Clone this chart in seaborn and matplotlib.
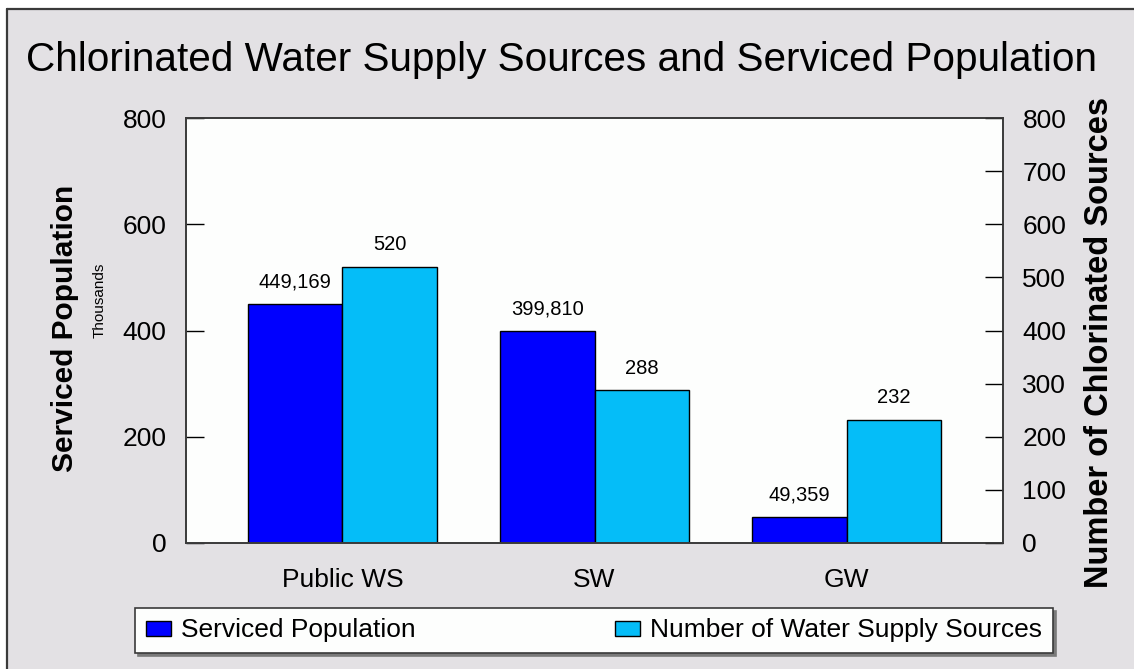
import matplotlib
matplotlib.use("Agg")
import matplotlib.pyplot as plt
from matplotlib.patches import Rectangle, Patch
from matplotlib.lines import Line2D
import seaborn as sns
import pandas as pd

categories = ["Public WS", "SW", "GW"]
population_thousands = [449.169, 399.810, 49.359]
population_labels = ["449,169", "399,810", "49,359"]
num_sources = [520, 288, 232]
source_labels = ["520", "288", "232"]
series_names = ["Serviced Population", "Number of Water Supply Sources"]

df = pd.DataFrame({
    "Category": categories * 2,
    "Series": [series_names[0]] * 3 + [series_names[1]] * 3,
    "Value": population_thousands + num_sources,
})

sns.set_style("white")
plt.rcParams["font.family"] = ["Liberation Sans", "DejaVu Sans"]
plt.rcParams["text.color"] = "black"
plt.rcParams["xtick.color"] = "black"
plt.rcParams["ytick.color"] = "black"

BG = "#e3e1e4"
EDGE = "#3a3a3a"
colors = ["#0000ff", "#05bdf8"]

fig = plt.figure(figsize=(11.34, 6.69), dpi=100)
fig.patch.set_facecolor("white")
fig.patch.set_edgecolor("white")
fig.patch.set_linewidth(0)
x0 = 7 / 1134
y0 = 1 - 9 / 669
fig.patches.append(Rectangle((x0, 0), 1.5, y0, transform=fig.transFigure,
                             facecolor=BG, edgecolor="none", linewidth=0, zorder=-10))
fig.lines.append(Line2D([x0, x0], [0, y0], transform=fig.transFigure,
                        color=EDGE, linewidth=1.6))
fig.lines.append(Line2D([x0, 1.5], [y0, y0], transform=fig.transFigure,
                        color=EDGE, linewidth=1.6))

ax = fig.add_axes([186 / 1134, 1 - 543 / 669, (1003 - 186) / 1134, (543 - 118) / 669])
ax.set_facecolor("#fdfefd")
sns.barplot(data=df, x="Category", y="Value", hue="Series", palette=colors,
            edgecolor="black", linewidth=1.0, width=0.75, ax=ax, legend=False,
            saturation=1)
ax.set_xlim(-0.62, 2.62)
ax.set_ylim(0, 800)
ax.set_yticks([0, 200, 400, 600, 800])
ax.set_xlabel("")
ax.set_ylabel("")
for s in ax.spines.values():
    s.set_color(EDGE)
    s.set_linewidth(1.2)
ax.tick_params(axis="y", direction="in", length=13, width=1, color="black",
               labelsize=19, pad=14)
ax.tick_params(axis="x", length=0, labelsize=19, pad=18)

ax.bar_label(ax.containers[0], labels=population_labels, padding=9, fontsize=14.5)
ax.bar_label(ax.containers[1], labels=source_labels, padding=9, fontsize=14.5)

ax2 = ax.twinx()
ax2.set_ylim(0, 800)
ax2.set_yticks(range(0, 801, 100))
ax2.tick_params(axis="y", direction="in", length=13, width=1, color="black",
                labelsize=19, pad=14)
for s in ax2.spines.values():
    s.set_color(EDGE)
    s.set_linewidth(1.2)

fig.text(0.495, 1 - 60 / 669, "Chlorinated Water Supply Sources and Serviced Population",
         ha="center", va="center", fontsize=29.2)
fig.text(65 / 1134, 1 - 328 / 669, "Serviced Population", rotation=90,
         ha="center", va="center", fontsize=21.5, fontweight="bold")
fig.text(100 / 1134, 1 - 300 / 669, "Thousands", rotation=90,
         ha="center", va="center", fontsize=11)
fig.text(1100 / 1134, 1 - 342 / 669, "Number of Chlorinated Sources", rotation=90,
         ha="center", va="center", fontsize=23.5, fontweight="bold")

handles = [Patch(facecolor=c, edgecolor="black", linewidth=1) for c in colors]
leg = fig.legend(handles, series_names, loc="lower left",
                 bbox_to_anchor=(135 / 1134, 1 - 653 / 669, (1053 - 135) / 1134, (653 - 607) / 669),
                 mode="expand", ncol=2, borderaxespad=0, fontsize=19,
                 fancybox=False, shadow={"color": "#7a7a7a", "alpha": 1},
                 framealpha=1, edgecolor=EDGE, handlelength=0.95, handleheight=0.5,
                 handletextpad=0.38, borderpad=0.4)
leg.get_frame().set_facecolor("#fdfefd")
leg.get_frame().set_linewidth(1.2)

fig.savefig("out.png", dpi=100, facecolor=fig.get_facecolor())
